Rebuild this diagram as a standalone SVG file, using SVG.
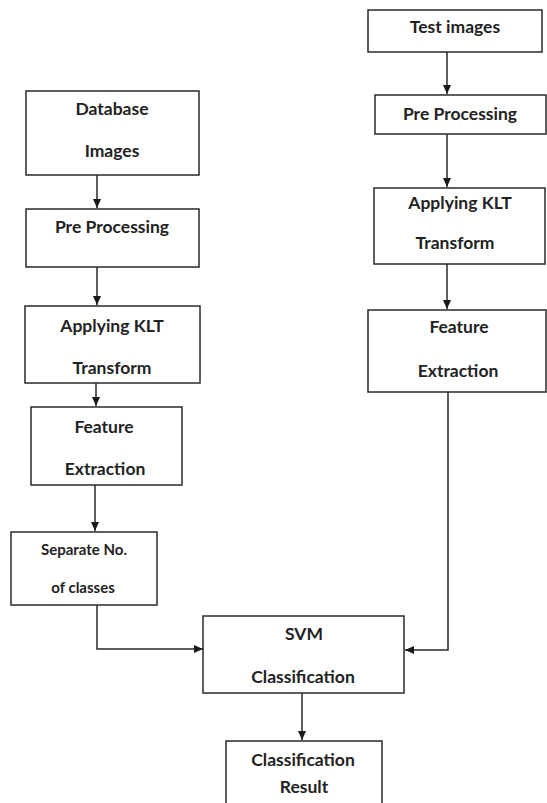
<svg xmlns="http://www.w3.org/2000/svg" width="547" height="803" viewBox="0 0 547 803">
<style>
.box{fill:#fff;stroke:#2a2a2a;stroke-width:1.5}
.t{font-family:Lato,"Open Sans",sans-serif;font-weight:bold;font-size:17.5px;fill:#222;text-anchor:middle}
.s{font-size:15px}
.c{fill:none;stroke:#2a2a2a;stroke-width:1.5}
</style>
<defs>
<marker id="ah" markerWidth="10" markerHeight="10" refX="9" refY="5" orient="auto" markerUnits="userSpaceOnUse">
<path d="M0,1 L9,5 L0,9 Z" fill="#1a1a1a"/>
</marker>
</defs>
<rect width="547" height="803" fill="#fff"/>
<g id="connectors">
<line class="c" x1="97" y1="175" x2="97" y2="208" marker-end="url(#ah)"/>
<line class="c" x1="97" y1="267" x2="97" y2="305" marker-end="url(#ah)"/>
<line class="c" x1="96" y1="383" x2="96" y2="406" marker-end="url(#ah)"/>
<line class="c" x1="95" y1="485" x2="95" y2="531" marker-end="url(#ah)"/>
<polyline class="c" points="97,605 97,649 203,649" marker-end="url(#ah)"/>
<line class="c" x1="447" y1="52" x2="447" y2="94" marker-end="url(#ah)"/>
<line class="c" x1="447" y1="134" x2="447" y2="187" marker-end="url(#ah)"/>
<line class="c" x1="447" y1="264" x2="447" y2="309" marker-end="url(#ah)"/>
<polyline class="c" points="448,392 448,650 405,650" marker-end="url(#ah)"/>
<line class="c" x1="302" y1="693" x2="302" y2="740" marker-end="url(#ah)"/>
</g>
<g id="db-images">
<rect class="box" x="26" y="91" width="173" height="84"/>
<text class="t" x="112" y="115">Database</text>
<text class="t" x="112" y="157">Images</text>
</g>
<g id="pre-left">
<rect class="box" x="26" y="209" width="173" height="58"/>
<text class="t" x="112" y="233">Pre Processing</text>
</g>
<g id="klt-left">
<rect class="box" x="25" y="306" width="175" height="77"/>
<text class="t" x="112" y="332">Applying KLT</text>
<text class="t" x="112" y="374">Transform</text>
</g>
<g id="feat-left">
<rect class="box" x="31" y="407" width="151" height="78"/>
<text class="t" x="104" y="433">Feature</text>
<text class="t" x="105" y="475">Extraction</text>
</g>
<g id="separate">
<rect class="box" x="11" y="532" width="146" height="73"/>
<text class="t s" x="84" y="555">Separate No.</text>
<text class="t s" x="83" y="593">of classes</text>
</g>
<g id="test-images">
<rect class="box" x="368" y="10" width="174" height="42"/>
<text class="t" x="455" y="33">Test images</text>
</g>
<g id="pre-right">
<rect class="box" x="375" y="95" width="171" height="39"/>
<text class="t" x="460" y="120">Pre Processing</text>
</g>
<g id="klt-right">
<rect class="box" x="374" y="188" width="171" height="76"/>
<text class="t" x="460" y="209">Applying KLT</text>
<text class="t" x="455" y="249">Transform</text>
</g>
<g id="feat-right">
<rect class="box" x="368" y="310" width="178" height="82"/>
<text class="t" x="459" y="333">Feature</text>
<text class="t" x="458" y="377">Extraction</text>
</g>
<g id="svm">
<rect class="box" x="203" y="616" width="201" height="77"/>
<text class="t" x="304" y="640">SVM</text>
<text class="t" x="303" y="683">Classification</text>
</g>
<g id="result">
<rect class="box" x="226" y="741" width="156" height="70"/>
<text class="t" x="303" y="766">Classification</text>
<text class="t" x="304" y="793">Result</text>
</g>
</svg>
